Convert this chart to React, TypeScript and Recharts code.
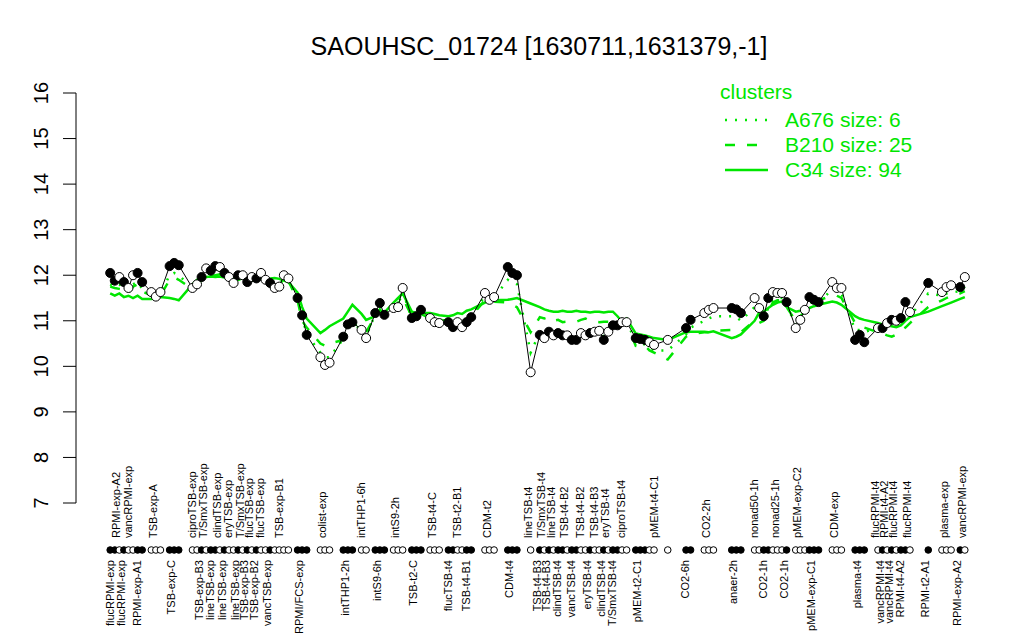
import React from "react";
import { ComposedChart, Line, XAxis, YAxis } from "recharts";

// samples sit on a slot axis; experiment groups are separated by a few empty slots
const groupSizes = [8, 3, 3, 2, 20, 3, 3, 3, 2, 3, 3, 3, 3, 6, 3, 3, 1, 20, 5, 1, 2, 3, 3, 2, 2, 3, 1, 3, 3, 3, 3, 8, 1, 3, 2];
const groupGaps = [0, 1, 1, 2, 0, 1, 2, 2, 1, 1, 1, 1, 1, 1, 2, 2, 2, 1, 1, 2, 3, 2, 3, 2, 0, 0, 0, 1, 0, 2, 2, 2, 3, 2, 1];

// consecutive samples with the same name form one condition (one label, one marker style)
const sampleNames = [
  "flucRPMI-exp", "flucRPMI-exp", "RPMI-exp-A2", "flucRPMI-exp", "vancRPMI-exp", "vancRPMI-exp", "RPMI-exp-A1", "RPMI-exp-A1",
  "TSB-exp-A", "TSB-exp-A", "TSB-exp-A",
  "TSB-exp-C", "TSB-exp-C", "TSB-exp-C",
  "ciproTSB-exp", "ciproTSB-exp",
  "TSB-exp-B3", "T/SmxTSB-exp", "lineTSB-exp", "lineTSB-exp", "clindTSB-exp", "lineTSB-exp", "eryTSB-exp", "eryTSB-exp", "lineTSB-exp", "T/SmxTSB-exp",
  "TSB-exp-B3", "flucTSB-exp", "TSB-exp-B2", "flucTSB-exp", "flucTSB-exp", "vancTSB-exp", "TSB-exp-B1", "TSB-exp-B1", "TSB-exp-B1", "TSB-exp-B1",
  "RPMI/FCS-exp", "RPMI/FCS-exp", "RPMI/FCS-exp",
  "colist-exp", "colist-exp", "colist-exp",
  "intTHP1-2h", "intTHP1-2h", "intTHP1-2h",
  "intTHP1-6h", "intTHP1-6h",
  "intS9-6h", "intS9-6h", "intS9-6h",
  "intS9-2h", "intS9-2h", "intS9-2h",
  "TSB-t2-C", "TSB-t2-C", "TSB-t2-C",
  "TSB-t4-C", "TSB-t4-C", "TSB-t4-C",
  "flucTSB-t4", "flucTSB-t4", "TSB-t2-B1", "TSB-t2-B1", "TSB-t4-B1", "TSB-t4-B1",
  "CDM-t2", "CDM-t2", "CDM-t2",
  "CDM-t4", "CDM-t4", "CDM-t4",
  "lineTSB-t4",
  "TSB-t4-B3", "T/SmxTSB-t4", "TSB-t4-B3", "lineTSB-t4", "clindTSB-t4", "clindTSB-t4", "TSB-t4-B2", "vancTSB-t4", "vancTSB-t4", "TSB-t4-B2",
  "TSB-t4-B2", "eryTSB-t4", "TSB-t4-B3", "TSB-t4-B3", "clindTSB-t4", "eryTSB-t4", "T/SmxTSB-t4", "T/SmxTSB-t4", "ciproTSB-t4", "ciproTSB-t4",
  "pMEM-t2-C1", "pMEM-t2-C1", "pMEM-t2-C1", "pMEM-t4-C1", "pMEM-t4-C1",
  "pMEM-t4-C1",
  "CO2-6h", "CO2-6h",
  "CO2-2h", "CO2-2h", "CO2-2h",
  "anaer-2h", "anaer-2h", "anaer-2h",
  "nonad50-1h", "nonad50-1h",
  "CO2-1h", "CO2-1h",
  "nonad25-1h", "nonad25-1h", "nonad25-1h",
  "CO2-1h",
  "pMEM-exp-C2", "pMEM-exp-C2", "pMEM-exp-C2",
  "pMEM-exp-C1", "pMEM-exp-C1", "pMEM-exp-C1",
  "CDM-exp", "CDM-exp", "CDM-exp",
  "plasma-t4", "plasma-t4", "plasma-t4",
  "flucRPMI-t4", "vancRPMI-t4", "RPMI-t4-A2", "vancRPMI-t4", "flucRPMI-t4", "RPMI-t4-A2", "RPMI-t4-A2", "flucRPMI-t4",
  "RPMI-t2-A1",
  "plasma-exp", "plasma-exp", "plasma-exp",
  "RPMI-exp-A2", "vancRPMI-exp",
];

const expression = [
  12.05, 11.88, 11.96, 11.85, 11.72, 12.0, 12.05, 11.85,
  11.63, 11.53, 11.63,
  12.2, 12.27, 12.22,
  11.72, 11.8,
  11.96, 12.15, 12.1, 12.2, 12.18, 12.05, 11.96, 11.83, 12.0, 12.0,
  11.85, 11.96, 11.93, 12.05, 11.9, 11.83, 11.72, 11.75, 12.0, 11.93,
  11.5, 11.12, 10.69,
  10.2, 10.03, 10.08,
  10.65, 10.92, 10.97,
  10.8, 10.62,
  11.17, 11.39, 11.13,
  11.28, 11.3, 11.72,
  11.06, 11.1, 11.24,
  11.06, 10.97, 10.95,
  10.97, 10.86, 10.97, 10.86, 10.97, 11.08,
  11.61, 11.46, 11.52,
  12.18, 12.05, 12.0,
  9.87,
  10.69, 10.62, 10.76, 10.68, 10.73, 10.68, 10.68, 10.58, 10.58, 10.73,
  10.68, 10.73, 10.76, 10.78, 10.58, 10.76, 10.9, 10.9, 10.97, 10.97,
  10.62, 10.6, 10.58, 10.53, 10.47,
  10.58,
  10.84, 11.02,
  11.17, 11.24, 11.28,
  11.28, 11.25, 11.17,
  11.5, 11.28,
  11.1, 11.5,
  11.63, 11.61, 11.61,
  11.41,
  10.84, 11.02, 11.24,
  11.52, 11.46, 11.41,
  11.85, 11.72, 11.72,
  10.58, 10.69, 10.53,
  10.84, 10.84, 10.95, 11.02, 11.0, 11.06, 11.41, 11.19,
  11.83,
  11.63, 11.74, 11.78,
  11.74, 11.96,
];

const clusterA676 = [
  11.8, 11.75, 11.8, 11.7, 11.65, 11.8, 11.85, 11.7,
  11.6, 11.52, 11.6,
  12.0, 12.05, 12.0,
  11.72, 11.78,
  11.95, 12.05, 12.0, 12.1, 12.1, 12.0, 11.95, 11.85, 11.95, 11.95,
  11.85, 11.9, 11.9, 12.0, 11.9, 11.85, 11.75, 11.75, 11.95, 11.9,
  11.5, 11.1, 10.7,
  10.3, 10.2, 10.2,
  10.6, 10.85, 10.95,
  10.8, 10.65,
  11.15, 11.35, 11.15,
  11.3, 11.35, 11.65,
  11.05, 11.1, 11.2,
  11.05, 10.98, 10.95,
  10.98, 10.9, 10.98, 10.9, 11.0, 11.08,
  11.55, 11.45, 11.5,
  11.9, 11.85, 11.8,
  10.3,
  10.75, 10.7, 10.8, 10.75, 10.78, 10.72, 10.7, 10.65, 10.62, 10.78,
  10.72, 10.78, 10.8, 10.82, 10.65, 10.8, 10.9, 10.92, 10.95, 10.97,
  10.55, 10.5, 10.48, 10.4, 10.35,
  10.35,
  10.7, 10.85,
  11.0, 11.05, 11.1,
  11.1, 11.08, 11.0,
  11.3, 11.1,
  11.0, 11.3,
  11.45, 11.5, 11.5,
  11.35,
  10.9, 11.0, 11.15,
  11.4, 11.4, 11.38,
  11.7, 11.65, 11.6,
  10.8, 10.8, 10.75,
  10.85, 10.85, 10.9, 10.95, 10.95, 11.0, 11.2, 11.1,
  11.6,
  11.55, 11.6, 11.62,
  11.65, 11.75,
];

const clusterB210 = [
  11.75, 11.72, 11.7, 11.68, 11.6, 11.75, 11.8, 11.65,
  11.55, 11.5, 11.55,
  11.9, 11.95, 11.9,
  11.7, 11.75,
  11.9, 12.0, 11.98, 12.0, 12.02, 11.95, 11.9, 11.85, 11.9, 11.92,
  11.85, 11.88, 11.88, 11.95, 11.88, 11.82, 11.75, 11.78, 11.9, 11.88,
  11.45, 11.0, 10.85,
  10.5, 10.45, 10.5,
  10.58, 10.8, 10.95,
  10.85, 10.75,
  11.1, 11.25, 11.12,
  11.3, 11.4, 11.5,
  11.1, 11.12, 11.15,
  11.05, 11.0, 11.02,
  11.0, 10.95, 11.0, 10.95, 11.05, 11.1,
  11.45, 11.4, 11.42,
  11.4, 11.35, 11.3,
  10.75,
  11.08, 11.05, 11.08, 11.0, 11.02, 10.97, 10.98, 10.97, 10.98, 11.02,
  11.05, 11.0, 10.98, 10.97, 10.98, 10.98, 11.0, 11.0, 10.98, 10.95,
  10.45, 10.43, 10.45, 10.35, 10.3,
  10.15,
  10.65, 10.7,
  10.75, 10.75, 10.78,
  10.8, 10.78, 10.75,
  11.0, 10.95,
  11.0, 11.2,
  11.4, 11.45, 11.45,
  11.3,
  11.0, 11.1, 11.2,
  11.35, 11.4, 11.45,
  11.55, 11.55, 11.5,
  10.95, 10.9, 10.85,
  10.75, 10.72, 10.68, 10.65, 10.7, 10.78, 10.85, 10.95,
  11.3,
  11.45, 11.5, 11.55,
  11.6, 11.65,
];

const clusterC34 = [
  11.6, 11.55, 11.6, 11.52, 11.55, 11.5, 11.55, 11.48,
  11.48, 11.5, 11.52,
  11.5, 11.48, 11.45,
  11.8, 11.9,
  11.95, 11.96, 11.97, 11.96, 11.97, 11.95, 11.94, 11.93, 11.94, 11.93,
  11.92, 11.9, 11.9, 11.92, 11.93, 11.93, 11.94, 11.92, 11.88, 11.85,
  11.62, 11.3, 11.05,
  10.73, 10.8, 10.88,
  11.05, 11.2, 11.35,
  11.15, 11.02,
  11.1, 11.2, 11.18,
  11.4, 11.5, 11.6,
  11.2, 11.17, 11.17,
  11.17, 11.15, 11.12,
  11.1, 11.12, 11.17, 11.15, 11.22, 11.25,
  11.4, 11.42, 11.45,
  11.46, 11.48, 11.5,
  11.38,
  11.3, 11.25, 11.22, 11.2, 11.2, 11.22, 11.2, 11.2, 11.22, 11.2,
  11.2, 11.18, 11.2, 11.2, 11.18, 11.2, 11.2, 11.1, 10.98, 11.05,
  10.72, 10.7, 10.68, 10.65, 10.62,
  10.58,
  10.75, 10.76,
  10.76, 10.75, 10.77,
  10.62, 10.65, 10.7,
  11.0, 11.18,
  11.2, 11.28,
  11.35, 11.4, 11.42,
  11.3,
  11.2, 11.22, 11.25,
  11.28, 11.32, 11.35,
  11.42, 11.4, 11.35,
  11.1, 11.05, 11.02,
  10.95, 10.92, 10.9, 10.88, 10.86, 10.9, 11.0, 11.08,
  11.2,
  11.32, 11.36, 11.4,
  11.48, 11.52,
];

const yTicks = [7, 8, 9, 10, 11, 12, 13, 14, 15, 16];

const GREEN = "#00e600";
const FONT = "'Liberation Sans', Arial, Helvetica, sans-serif";
const PLOT_BOTTOM = 503;
const RUG_Y = PLOT_BOTTOM + 47;

// slot position of every sample
const sampleX: number[] = [];
let slot = 0;
groupSizes.forEach((size, g) => {
  slot += groupGaps[g];
  for (let k = 0; k < size; k++) {
    sampleX.push(slot);
    slot += 1;
  }
});

// condition runs: alternate filled/open markers, labels below/above the rug
const runOf: number[] = [];
const runNames: string[] = [];
const runSums: number[] = [];
const runCounts: number[] = [];
sampleNames.forEach((name, i) => {
  if (i === 0 || name !== sampleNames[i - 1]) {
    runNames.push(name);
    runSums.push(0);
    runCounts.push(0);
  }
  const r = runNames.length - 1;
  runOf.push(r);
  runSums[r] += sampleX[i];
  runCounts[r] += 1;
});
const runCenters = runSums.map((s, r) => s / runCounts[r]);

const data = sampleNames.map((name, i) => ({
  x: sampleX[i],
  name,
  value: expression[i],
  filled: runOf[i] % 2 === 0,
  a: clusterA676[i],
  b: clusterB210[i],
  c: clusterC34[i],
}));

const xMax = sampleX[sampleX.length - 1];
const xPad = xMax * 0.04;

const RugTick = (props: any) => {
  const { x, payload } = props;
  const i = sampleX.indexOf(payload.value);
  if (i < 0) return null;
  return <circle cx={x} cy={RUG_Y} r={3.3} fill={runOf[i] % 2 === 0 ? "#000" : "#fff"} stroke="#000" strokeWidth={1} />;
};

const LabelTick = (props: any) => {
  const { x, payload } = props;
  const r = runCenters.indexOf(payload.value);
  if (r < 0) return null;
  const below = r % 2 === 0;
  const y = below ? RUG_Y + 10 : RUG_Y - 12;
  return (
    <text x={x} y={y} transform={`rotate(-90 ${x} ${y})`} textAnchor={below ? "end" : "start"} dy="0.1em" fontSize={11} fontFamily={FONT} fill="#000">
      {runNames[r]}
    </text>
  );
};

const YTick = (props: any) => {
  const { x, y, payload } = props;
  return (
    <text x={x} y={y} transform={`rotate(-90 ${x} ${y})`} textAnchor="middle" fontSize={20} fontFamily={FONT} fill="#000">
      {payload.value}
    </text>
  );
};

const SampleDot = (props: any) => {
  const { cx, cy, payload, index } = props;
  return <circle key={index} cx={cx} cy={cy} r={4.5} fill={payload.filled ? "#000" : "#fff"} stroke="#000" strokeWidth={1} />;
};

export default function App() {
  return (
    <div style={{ position: "absolute", left: 0, top: 0, width: 1024, height: 640, background: "#fff" }}>
      <ComposedChart width={1024} height={640} data={data} margin={{ top: 93, right: 25, bottom: 106, left: 16 }}>
        <XAxis
          dataKey="x"
          type="number"
          domain={[-xPad, xMax + xPad]}
          allowDataOverflow
          ticks={sampleX}
          interval={0}
          axisLine={false}
          tickLine={false}
          height={30}
          tick={<RugTick />}
        />
        <XAxis
          xAxisId="labels"
          dataKey="x"
          type="number"
          domain={[-xPad, xMax + xPad]}
          allowDataOverflow
          ticks={runCenters}
          interval={0}
          axisLine={false}
          tickLine={false}
          height={1}
          tick={<LabelTick />}
        />
        <YAxis
          type="number"
          domain={[7, 16]}
          ticks={yTicks}
          width={60}
          stroke="#000"
          tickSize={13}
          tickMargin={15}
          tick={<YTick />}
        />
        <Line dataKey="a" stroke={GREEN} strokeWidth={2.5} strokeDasharray="2 8" dot={false} activeDot={false} isAnimationActive={false} />
        <Line dataKey="b" stroke={GREEN} strokeWidth={2.5} strokeDasharray="10 12" dot={false} activeDot={false} isAnimationActive={false} />
        <Line dataKey="c" stroke={GREEN} strokeWidth={2.5} dot={false} activeDot={false} isAnimationActive={false} />
        <Line dataKey="value" stroke="#000" strokeWidth={1} dot={<SampleDot />} activeDot={false} isAnimationActive={false} />
      </ComposedChart>
      <svg width={1024} height={640} style={{ position: "absolute", left: 0, top: 0, pointerEvents: "none" }}>
        <text x={539} y={55} textAnchor="middle" fontSize={25} fontFamily={FONT} fill="#000">
          SAOUHSC_01724 [1630711,1631379,-1]
        </text>
        <text x={720} y={99} fontSize={21} fontFamily={FONT} fill={GREEN}>clusters</text>
        <line x1={725} x2={768} y1={120} y2={120} stroke={GREEN} strokeWidth={2.5} strokeDasharray="2 8" />
        <text x={785} y={127} fontSize={21} fontFamily={FONT} fill={GREEN}>A676 size: 6</text>
        <line x1={725} x2={768} y1={145} y2={145} stroke={GREEN} strokeWidth={2.5} strokeDasharray="10 12" />
        <text x={785} y={152} fontSize={21} fontFamily={FONT} fill={GREEN}>B210 size: 25</text>
        <line x1={725} x2={768} y1={170} y2={170} stroke={GREEN} strokeWidth={2.5} />
        <text x={785} y={177} fontSize={21} fontFamily={FONT} fill={GREEN}>C34 size: 94</text>
      </svg>
    </div>
  );
}
